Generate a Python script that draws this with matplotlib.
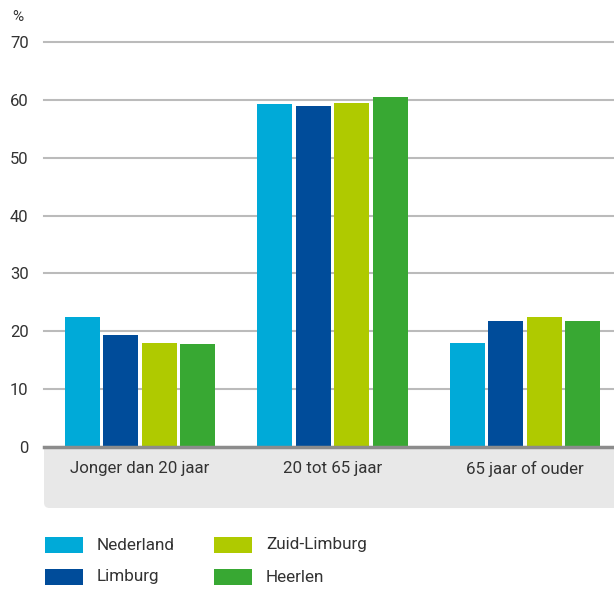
import matplotlib
matplotlib.use("Agg")
import matplotlib.pyplot as plt
import numpy as np
from matplotlib.patches import FancyBboxPatch, Rectangle

plt.rcParams['font.family'] = ['Roboto', 'DejaVu Sans']

categories = ["Jonger dan 20 jaar", "20 tot 65 jaar", "65 jaar of ouder"]
series = ["Nederland", "Limburg", "Zuid-Limburg", "Heerlen"]
values = {
    "Nederland":    [22.5, 59.3, 18.0],
    "Limburg":      [19.3, 59.0, 21.8],
    "Zuid-Limburg": [18.0, 59.5, 22.5],
    "Heerlen":      [17.8, 60.5, 21.7],
}
colors = ["#00AAD8", "#004C9A", "#AFCA00", "#38A833"]
yticks = [0, 10, 20, 30, 40, 50, 60, 70]

W, H = 614, 589
fig = plt.figure(figsize=(W / 100, H / 100), dpi=100)
text_color = "#333333"

def fx(px):
    return px / W

def fy(py):
    return 1 - py / H

ax_left, ax_right, ax_top, ax_bottom = 44, 614, 42, 447
ax = fig.add_axes([fx(ax_left), fy(ax_bottom), fx(ax_right - ax_left), (ax_bottom - ax_top) / H])
ax.set_facecolor("white")

# grey category band with rounded corner
band = FancyBboxPatch((fx(44), fy(508)), fx(614 - 44 + 20), (508 - 430) / H,
                      boxstyle="round,pad=0,rounding_size=0.009",
                      transform=fig.transFigure, facecolor="#E8E8E8",
                      edgecolor="none", zorder=-1)
fig.patches.append(band)

x = np.arange(len(categories))
width = 0.18
offsets = [-0.3, -0.1, 0.1, 0.3]
for s, c, off in zip(series, colors, offsets):
    ax.bar(x + off, values[s], width=width, color=c, zorder=3, linewidth=0)

ax.set_ylim(0, 70)
ax.set_xlim(-0.4987, 2.462)
for yv in yticks[1:]:
    ax.axhline(yv, color="#BBBBBB", linewidth=1.5, zorder=1, clip_on=False)
ax.axhline(0, color="#8C8C8C", linewidth=2.5, zorder=4, clip_on=False)

for sp in ax.spines.values():
    sp.set_visible(False)

ax.set_yticks(yticks)
ax.set_yticklabels([str(v) for v in yticks])
ax.tick_params(axis="y", length=0, pad=11, labelsize=12, labelcolor=text_color)
ax.set_xticks(x)
ax.set_xticklabels(categories)
ax.tick_params(axis="x", length=0, pad=10, labelsize=12.2, labelcolor=text_color)

fig.text(fx(18), fy(17), "%", ha="center", va="center", fontsize=11, color=text_color)

# legend
col_x = [45, 214]
row_y = [545, 577]
for i, (s, c) in enumerate(zip(series, colors)):
    col, row = i // 2, i % 2
    x0 = col_x[col]
    yc = row_y[row]
    fig.patches.append(Rectangle((fx(x0), fy(yc + 8)), fx(38), 16 / H,
                                 transform=fig.transFigure, facecolor=c,
                                 edgecolor="none"))
    fig.text(fx(x0 + 52), fy(yc), s, ha="left", va="center",
             fontsize=12.3, color=text_color)

fig.savefig("out.png", dpi=100)
